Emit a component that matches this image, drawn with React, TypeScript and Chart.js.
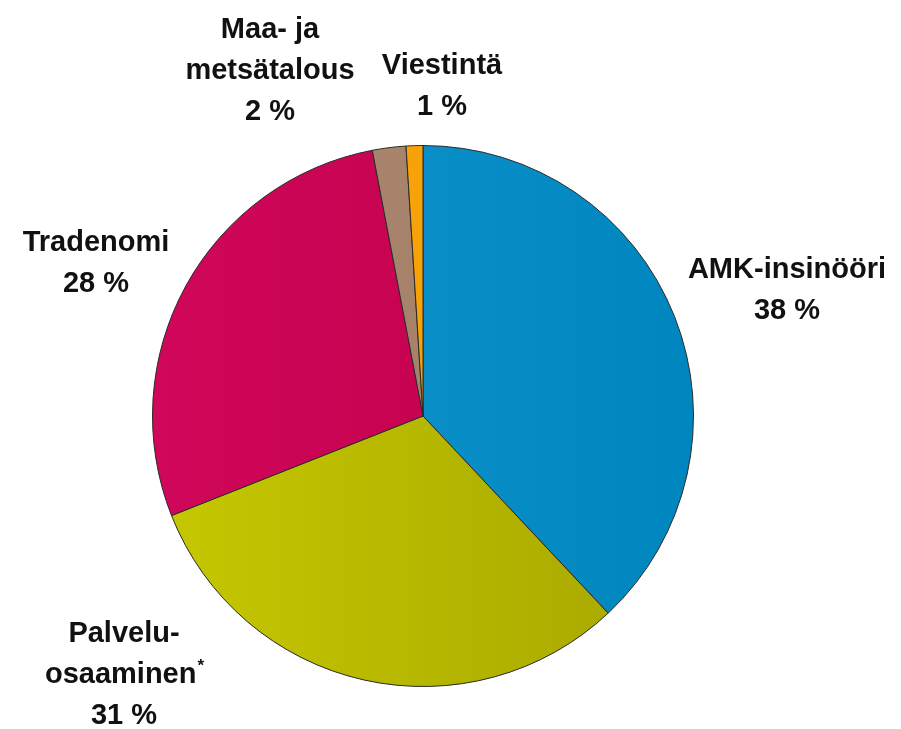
import React, { useEffect, useRef } from "react";
import { Chart, registerables } from "chart.js";

Chart.register(...registerables);

const categories = ["AMK-insinööri", "Palvelu-\nosaaminen*", "Tradenomi", "Maa- ja\nmetsätalous", "Viestintä"];
const values = [38, 31, 28, 2, 1];
const colorsLight = ["#1296D0", "#C6C800", "#D0075A", "#B08C74", "#FFAA10"];
const colorsDark = ["#0086BE", "#A6A600", "#BE0048", "#9C7862", "#F09800"];

// label anchor (center of text block) relative to pie center
const labelOffsets = [
  [364, -126],
  [-299, 259],
  [-327, -153],
  [-153, -345],
  [19, -330],
];

const W = 901;
const H = 729;

export default function App() {
  const ref = useRef<HTMLCanvasElement>(null);
  useEffect(() => {
    document.body.style.margin = "0";
    const canvas = ref.current!;
    const labelPlugin = {
      id: "outerLabels",
      afterDraw(chart: any) {
        const ctx = chart.ctx;
        const meta = chart.getDatasetMeta(0);
        const arc = meta.data[0] as any;
        const cx = arc.x;
        const cy = arc.y;
        ctx.save();
        ctx.fillStyle = "#111";
        const mainFont = "bold 29px 'Liberation Sans', Arial, sans-serif";
        const smallFont = "bold 17px 'Liberation Sans', Arial, sans-serif";
        ctx.textBaseline = "middle";
        const lh = 41;
        categories.forEach((c, i) => {
          const lines = c.split("\n").concat([`${values[i]} %`]);
          const [ox, oy] = labelOffsets[i];
          const top = cy + oy - ((lines.length - 1) * lh) / 2;
          lines.forEach((ln, j) => {
            const y = top + j * lh;
            const x = cx + ox;
            if (ln.endsWith("*")) {
              const body = ln.slice(0, -1);
              ctx.font = mainFont;
              const wb = ctx.measureText(body).width;
              ctx.font = smallFont;
              const ws = ctx.measureText("*").width;
              const start = x - (wb + ws) / 2;
              ctx.textAlign = "left";
              ctx.font = mainFont;
              ctx.fillText(body, start, y);
              ctx.font = smallFont;
              ctx.fillText("*", start + wb + 1, y - 9);
            } else {
              ctx.textAlign = "center";
              ctx.font = mainFont;
              ctx.fillText(ln, x, y);
            }
          });
        });
        ctx.restore();
      },
    };
    const chart = new Chart(canvas, {
      type: "pie",
      data: {
        labels: categories.map((c) => c.replace("\n", " ")),
        datasets: [
          {
            data: values,
            backgroundColor: (ctx: any) => {
              const chart = ctx.chart;
              const area = chart.chartArea;
              if (!area) return colorsLight[ctx.dataIndex];
              const g = chart.ctx.createLinearGradient(area.left, 0, area.right, 0);
              g.addColorStop(0, colorsLight[ctx.dataIndex]);
              g.addColorStop(1, colorsDark[ctx.dataIndex]);
              return g;
            },
            borderColor: "#2a2a2a",
            borderWidth: 1,
          },
        ],
      },
      options: {
        responsive: false,
        animation: false,
        layout: { padding: { left: 152, right: 207, top: 145, bottom: 42 } },
        plugins: {
          legend: { display: false },
          tooltip: { enabled: false },
        },
      },
      plugins: [labelPlugin],
    });
    return () => chart.destroy();
  }, []);
  return (
    <div style={{ position: "absolute", left: 0, top: 0, width: W, height: H, background: "#fff" }}>
      <canvas ref={ref} width={W} height={H} />
    </div>
  );
}
